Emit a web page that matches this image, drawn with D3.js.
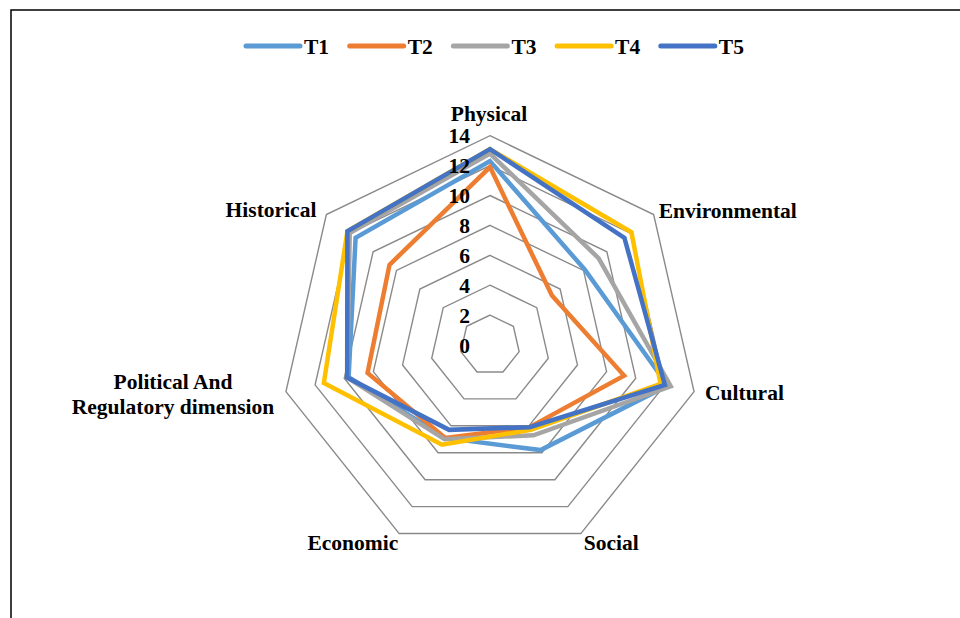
<!DOCTYPE html>
<html>
<head>
<meta charset="utf-8">
<script src="https://cdn.jsdelivr.net/npm/d3@7"></script>
<style>
  html, body { margin: 0; padding: 0; background: #fff; }
  svg { display: block; }
  text { font-family: "Liberation Serif", "Times New Roman", serif; font-weight: bold; fill: #000; }
</style>
</head>
<body>
<svg id="chart" width="960" height="618"></svg>
<script>
// Dimensions around the radar
const categories = ["Physical", "Environmental", "Cultural", "Social", "Economic", "Political And Regulatory dimension", "Historical"];
const seriesNames = ["T1", "T2", "T3", "T4", "T5"];
const seriesColors = ["#5B9BD5", "#ED7D31", "#A5A5A5", "#FFC000", "#4472C4"];

// Scores per dimension, in the order of categories
const T1 = [12.3, 8.1, 12.2, 7.8, 6.9, 9.7, 11.5];
const T2 = [11.9, 5.3, 9.2, 6.1, 6.9, 8.4, 8.6];
const T3 = [12.8, 9.3, 12.4, 6.7, 7.0, 9.8, 12.0];
const T4 = [13.1, 12.1, 11.7, 6.3, 7.4, 11.4, 12.2];
const T5 = [13.1, 11.5, 12.0, 6.1, 6.3, 9.8, 12.2];

const tickValues = [0, 2, 4, 6, 8, 10, 12, 14];

const series = [T1, T2, T3, T4, T5];

const width = 960, height = 618;
const cx = 490, cy = 345;
const fontSize = 21.5;
const svg = d3.select("#chart");

// outer frame
svg.append("rect")
  .attr("x", 11).attr("y", 10)
  .attr("width", width).attr("height", height)
  .attr("fill", "none").attr("stroke", "#000").attr("stroke-width", 1.5);

const r = d3.scaleLinear().domain([0, 14]).range([0, 209.3]);
const angle = d3.scaleLinear().domain([0, categories.length]).range([0, 2 * Math.PI]);

const g = svg.append("g").attr("transform", `translate(${cx},${cy})`);

const radial = d3.lineRadial()
  .angle((d, i) => angle(i))
  .radius(d => r(d))
  .curve(d3.curveLinearClosed);

// concentric gridlines
g.append("g").selectAll("path")
  .data(tickValues.filter(t => t > 0))
  .join("path")
  .attr("d", t => radial(categories.map(() => t)))
  .attr("fill", "none")
  .attr("stroke", "#8a8a8a")
  .attr("stroke-width", 1.4);

// series polygons
g.append("g").selectAll("path")
  .data(series)
  .join("path")
  .attr("d", d => radial(d))
  .attr("fill", "none")
  .attr("stroke", (d, i) => seriesColors[i])
  .attr("stroke-width", 4.5)
  .attr("stroke-linejoin", "miter");

// value ticks along the top spoke
g.append("g").selectAll("text")
  .data(tickValues)
  .join("text")
  .attr("x", -20)
  .attr("y", t => -r(t))
  .attr("dy", "0.35em")
  .attr("text-anchor", "end")
  .attr("font-size", fontSize)
  .text(t => t);

// category labels
const pt = (i, v) => {
  const a = angle(i);
  return [Math.sin(a) * r(v), -Math.cos(a) * r(v)];
};
const labelOffsets = [
  { dx: -1, dy: -15, anchor: "middle" },
  { dx: 5, dy: 3, anchor: "start" },
  { dx: 11, dy: 8, anchor: "start" },
  { dx: 3, dy: 16, anchor: "start" },
  { dx: -1, dy: 16, anchor: "end" },
  { dx: -113, dy: -3, anchor: "middle" },
  { dx: -10, dy: 2, anchor: "end" }
];
const labelLines = [
  ["Physical"], ["Environmental"], ["Cultural"], ["Social"], ["Economic"],
  ["Political And", "Regulatory dimension"], ["Historical"]
];
const labels = g.append("g");
categories.forEach((c, i) => {
  const [x, y] = pt(i, 14);
  const o = labelOffsets[i];
  const t = labels.append("text")
    .attr("x", x + o.dx)
    .attr("y", y + o.dy)
    .attr("text-anchor", o.anchor)
    .attr("font-size", fontSize);
  labelLines[i].forEach((line, k) => {
    t.append("tspan")
      .attr("x", x + o.dx)
      .attr("dy", k === 0 ? 0 : 25.5)
      .text(line);
  });
});

// legend
const legend = svg.append("g").attr("transform", "translate(246,46)");
const item = legend.selectAll("g")
  .data(seriesNames)
  .join("g")
  .attr("transform", (d, i) => `translate(${i * 103.7},0)`);
item.append("line")
  .attr("x1", 0).attr("x2", 54)
  .attr("y1", 0).attr("y2", 0)
  .attr("stroke", (d, i) => seriesColors[i])
  .attr("stroke-width", 5)
  .attr("stroke-linecap", "round");
item.append("text")
  .attr("x", 58).attr("y", 7.5)
  .attr("font-size", fontSize)
  .text(d => d);
</script>
</body>
</html>
